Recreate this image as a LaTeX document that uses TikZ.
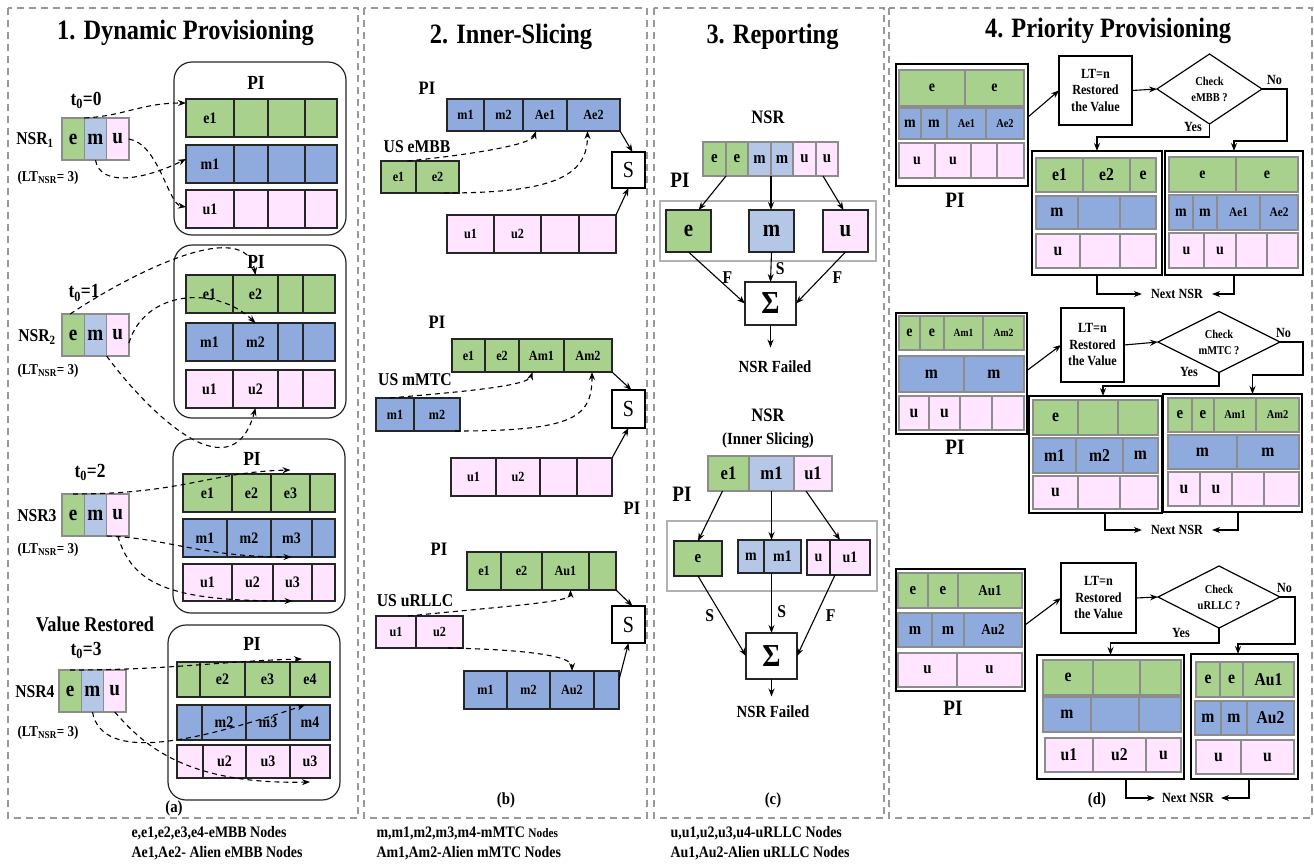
\documentclass[tikz,border=0pt]{standalone}
\usepackage{fontspec}
\setmainfont{Liberation Serif}[FakeStretch=0.87]
\usetikzlibrary{positioning}
\usetikzlibrary{shapes.geometric}
\usetikzlibrary{arrows.meta}

\definecolor{embb}{HTML}{A9D18E}
\definecolor{mmtc}{HTML}{8FAADC}
\definecolor{mlite}{HTML}{B4C7E7}
\definecolor{urllc}{HTML}{FFE5FF}

\newcommand{\fs}[1]{\fontsize{#1}{#1}\selectfont\bfseries}
\newcommand{\fsl}[2]{\fontsize{#1}{#2}\selectfont\bfseries}

% a row of slots: name, style, top, bottom, {left/right/label,...}
\newcommand{\slots}[5]{%
  \foreach \xa/\xb/\lab [count=\ci] in {#5}{%
    \node[#2, minimum width={(\xb-\xa)*1pt}, minimum height={(#4-#3)*1pt}]
      (#1-\ci) at ({(\xa+\xb)/2},{(#3+#4)/2}) {\lab};
  }%
}
% a box node between two corners
\newcommand{\spot}[7]{%
  \node[#1, minimum width={(#5-#3)*1pt}, minimum height={(#6-#4)*1pt}]
    (#2) at ({(#3+#5)/2},{(#4+#6)/2}) {#7};%
}
\newcommand{\nsrblock}[3]{%
  \node[nsrcell, fill=embb, anchor=north west] (#1-e) at (#2,#3) {e};
  \node[nsrcell, fill=mlite, right=0pt of #1-e] (#1-m) {m};
  \node[nsrcell, fill=urllc, right=0pt of #1-m] (#1-u) {u};%
}

\tikzset{
  panel/.style={draw=black!40, dash pattern=on 7pt off 5pt, line width=1.3pt},
  pibox/.style={draw=black!85, line width=1.2pt, rounded corners=18pt},
  slot/.style={draw=black!85, line width=1.2pt, inner sep=0pt, outer sep=0pt, font=\fs{16}},
  gslot/.style={draw=black!45, line width=1.2pt, inner sep=0pt, outer sep=0pt, font=\fs{16}},
  nsrcell/.style={draw=black!45, line width=1.2pt, inner sep=0pt, outer sep=0pt,
    minimum width=22.3pt, minimum height=42pt, font=\fs{22}},
  obox/.style={draw, line width=1.4pt, inner sep=0pt, outer sep=0pt},
  gframe/.style={draw=black!30, line width=1.3pt, inner sep=0pt, outer sep=0pt},
  sbox/.style={draw, line width=1.2pt, fill=white, inner sep=0pt, outer sep=0pt,
    font=\fontsize{23}{23}\selectfont},
  ltbox/.style={obox, align=center, font=\fsl{14}{16.5}},
  check/.style={diamond, aspect=2, draw, line width=1.2pt, inner sep=0pt, outer sep=0pt,
    align=center, font=\fsl{12}{16}},
  dasharr/.style={dash pattern=on 5pt off 4pt, line width=1.1pt, -{Stealth[length=8pt,width=6pt]}},
  arr/.style={line width=1.1pt, -{Stealth[length=8pt,width=6pt]}},
}

\begin{document}
\begin{tikzpicture}[x=1pt,y=-1pt]
\useasboundingbox (0,0) rectangle (1314,863);

\draw[panel] (8,8) rectangle (358,818);
\draw[panel] (364,8) rectangle (647,818);
\draw[panel] (654,8) rectangle (884,818);
\draw[panel] (889,8) rectangle (1312,818);

\node[font=\fs{28}, anchor=base] (ttla) at (185.5,39) {1. Dynamic Provisioning};
\node[font=\fs{28}, anchor=base] (ttlb) at (511,43) {2. Inner-Slicing};
\node[font=\fs{28}, anchor=base] (ttlc) at (772.5,43) {3. Reporting};
\node[font=\fs{28}, anchor=base] (ttld) at (1108,37) {4. Priority Provisioning};

% 1. dynamic provisioning
\draw[pibox] (174,62) rectangle (346,235);
\node[font=\fs{20}] (pia) at (256,83) {PI};
\slots{pae}{slot, fill=embb}{99}{137}{186/234/e1, 234/268/{}, 268/305/{}, 305/337/{}}
\slots{pam}{slot, fill=mmtc}{145}{183}{186/234/m1, 234/268/{}, 268/305/{}, 305/337/{}}
\slots{pau}{slot, fill=urllc}{190}{228}{186/234/u1, 234/268/{}, 268/305/{}, 305/337/{}}
\node[font=\fs{20}] (tza) at (86,100) {t\textsubscript{0}=0};
\node[font=\fs{18}] (nla) at (35,140) {NSR\textsubscript{1}};
\node[font=\fs{15}] (lva) at (48,178) {(LT\textsubscript{NSR}= 3)};
\nsrblock{na}{62}{118}
\draw[dasharr] (na-e.north east) .. controls +(40,-2) and +(-45,0) .. ([yshift=-4pt]pae-1.north west);
\draw[dasharr] (na-m.south) .. controls +(5,28) and +(-40,20) .. ([yshift=5pt]pam-1.west);
\draw[dasharr] (na-u.east) .. controls +(30,5) and +(-18,-3) .. ([yshift=2pt]pau-1.west);

\draw[pibox] (174,245) rectangle (346,418);
\node[font=\fs{20}] (pib) at (256,262) {PI};
\slots{pbe}{slot, fill=embb}{275}{313}{186/233/e1, 233/278/e2, 278/303/{}, 303/335/{}}
\slots{pbm}{slot, fill=mmtc}{323}{361}{186/233/m1, 233/278/m2, 278/303/{}, 303/335/{}}
\slots{pbu}{slot, fill=urllc}{370}{408}{186/233/u1, 233/278/u2, 278/303/{}, 303/335/{}}
\node[font=\fs{20}] (tzb) at (84,293) {t\textsubscript{0}=1};
\node[font=\fs{18}] (nlb) at (37,337) {NSR\textsubscript{2}};
\node[font=\fs{15}] (lvb) at (48,371) {(LT\textsubscript{NSR}= 3)};
\nsrblock{nb}{62}{314}
\draw[dasharr] ([xshift=-3pt]nb-e.north) .. controls +(60,-40) and +(-10,-60) .. (pbe-2.north);
\draw[dasharr] ([yshift=-8pt]nb-u.east) .. controls +(16,-53) and +(-40,-38) .. (pbm-2.north);
\draw[dasharr] (nb-m.south east) .. controls +(33,45) and +(-25,92) .. (pbu-2.south);

\draw[pibox] (173,439) rectangle (345,613);
\node[font=\fs{20}] (pic) at (252,459) {PI};
\slots{pce}{slot, fill=embb}{474}{512}{183/232/e1, 232/271/e2, 271/310/e3, 310/335/{}}
\slots{pcm}{slot, fill=mmtc}{519}{557}{183/227/m1, 227/271/m2, 271/312/m3, 312/335/{}}
\slots{pcu}{slot, fill=urllc}{564}{601}{183/232/u1, 232/273/u2, 273/312/u3, 312/335/{}}
\node[font=\fs{20}] (tzc) at (90,472) {t\textsubscript{0}=2};
\node[font=\fs{18}] (nlc) at (37,516) {NSR3};
\node[font=\fs{15}] (lvc) at (48,550) {(LT\textsubscript{NSR}= 3)};
\nsrblock{nc}{62}{494}
\draw[dasharr] (nc-e.north) .. controls +(110,0) and +(-80,2) .. ([yshift=4pt]pce-3.north);
\draw[dasharr] (nc-m.south east) .. controls +(60,2) and +(-90,0) .. (pcm-3.south);
\draw[dasharr] (nc-u.south) .. controls +(15,50) and +(-120,0) .. (pcu-3.south);

\draw[pibox] (168,625) rectangle (340,800);
\node[font=\fs{20}] (pid) at (252,644) {PI};
\slots{pde}{slot, fill=embb}{662}{697}{177/200/{}, 200/245/e2, 245/290/e3, 290/330/e4}
\slots{pdm}{slot, fill=mmtc}{705}{740}{177/202/{}, 202/246/m2, 246/290/m3, 290/330/m4}
\slots{pdu}{slot, fill=urllc}{745}{778}{177/203/{}, 203/246/u2, 246/290/u3, 290/330/u3}
\node[font=\fs{21}] (vres) at (95,624) {Value Restored};
\node[font=\fs{20}] (tzd) at (86,650) {t\textsubscript{0}=3};
\node[font=\fs{18}] (nld) at (35,692) {NSR4};
\node[font=\fs{15}] (lvd) at (48,733) {(LT\textsubscript{NSR}= 3)};
\nsrblock{nd}{59}{670}
\draw[dasharr] (nd-e.north) .. controls +(100,0) and +(-80,2) .. ([shift={(12pt,3pt)}]pde-3.north east);
\draw[dasharr] (nd-m.south) .. controls +(10,53) and +(-105,35) .. ([xshift=-5pt]pdm-4.north);
\draw[dasharr] (nd-u.south) .. controls +(25,28) and +(-130,3) .. ([yshift=-4pt]pdu-4.south);
\node[font=\fs{17}] (capa) at (174,808) {(a)};

% 2. inner slicing
\node[font=\fs{19}] (pie) at (427,88) {PI};
\slots{sfa}{slot, fill=mmtc, font=\fs{14}}{99}{131}{447/484/m1, 484/523/m2, 523/567/Ae1, 567/620/Ae2}
\node[font=\fs{18}] (usea) at (417,147) {US eMBB};
\slots{usa}{slot, fill=embb, font=\fs{14}}{161}{193}{381/416/e1, 416/459/e2}
\spot{sbox}{sa}{612}{152}{645}{188}{S}
\slots{sfb}{slot, fill=urllc, font=\fs{14}}{215}{253}{447/494/u1, 494/541/u2, 541/579/{}, 579/616/{}}
\draw[arr] (sfa-4.south east) -- ([xshift=4pt]sa.north);
\draw[arr] (sfb-4.north east) -- (sa.south);
\draw[dasharr] ([xshift=9pt]usa-1.north) .. controls +(50,-5) and +(-5,15) .. ([xshift=-9pt]sfa-3.south);
\draw[dasharr] ([xshift=-15pt]usa-2.south east) .. controls +(110,0) and +(0,45) .. ([xshift=-6pt]sfa-4.south);

\node[font=\fs{19}] (pif) at (437,322) {PI};
\slots{sga}{slot, fill=embb, font=\fs{14}}{339}{372}{452/485/e1, 485/519/e2, 519/564/Am1, 564/612/Am2}
\node[font=\fs{18}] (useb) at (415,380) {US mMTC};
\slots{usb}{slot, fill=mmtc, font=\fs{14}}{398}{431}{376/414/m1, 414/460/m2}
\spot{sbox}{sb}{612}{390}{645}{428}{S}
\slots{sgb}{slot, fill=urllc, font=\fs{14}}{458}{496}{451/496/u1, 496/540/u2, 540/577/{}, 577/612/{}}
\draw[arr] (sga-4.south east) -- ([xshift=3pt]sb.north);
\draw[arr] (sgb-4.north east) -- (sb.south);
\draw[dasharr] ([xshift=-5pt]usb-1.north) .. controls +(55,-5) and +(-5,15) .. ([xshift=-9pt]sga-3.south);
\draw[dasharr] ([xshift=-5pt]usb-2.south east) .. controls +(120,0) and +(0,45) .. ([xshift=4pt]sga-4.south);
\node[font=\fs{19}] (pig) at (632,508) {PI};

\node[font=\fs{19}] (pih) at (439,549) {PI};
\slots{sha}{slot, fill=embb, font=\fs{14}}{552}{590}{467/501/e1, 501/542/e2, 542/589/Au1, 589/616/{}}
\node[font=\fs{18}] (usec) at (415,601) {US uRLLC};
\slots{usc}{slot, fill=urllc, font=\fs{14}}{616}{648}{376/416/u1, 416/463/u2}
\spot{sbox}{sc}{612}{606}{645}{643}{S}
\slots{shb}{slot, fill=mmtc, font=\fs{14}}{671}{709}{464/507/m1, 507/550/m2, 550/594/Au2, 594/619/{}}
\draw[arr] (sha-4.south east) -- ([xshift=4pt]sc.north);
\draw[arr] ([yshift=10pt]shb-4.east) -- (sc.south);
\draw[dasharr] ([xshift=12pt]usc-1.north) .. controls +(100,-10) and +(0,12) .. ([xshift=5pt]sha-3.south);
\draw[dasharr] ([xshift=-15pt]usc-2.south east) .. controls +(100,2) and +(0,-12) .. (shb-3.north);
\node[font=\fs{17}] (capb) at (506,800) {(b)};

% 3. reporting
\node[font=\fs{19}] (nsra) at (768,117) {NSR};
\slots{rae}{gslot, fill=embb, font=\fs{17}}{142}{176}{703/726/e, 726/748/e}
\slots{ram}{gslot, fill=mlite, font=\fs{17}}{142}{176}{748/771/m, 771/793/m}
\slots{rau}{gslot, fill=urllc, font=\fs{17}}{142}{176}{793/816/u, 816/838/u}
\node[font=\fs{22}] (pij) at (680,180) {PI};
\spot{gframe}{rga}{660}{201}{876}{261}{}
\spot{slot, fill=embb, font=\fs{24}}{rbe}{666}{210}{711}{252}{e}
\spot{slot, fill=mlite, font=\fs{24}}{rbm}{749}{210}{794}{252}{m}
\spot{slot, fill=urllc, font=\fs{24}}{rbu}{823}{210}{868}{252}{u}
\spot{slot, fill=white, font=\fs{32}}{suma}{745}{282}{796}{325}{Σ}
\draw[arr] (rae-1.south east) -- ([xshift=10pt]rbe.north);
\draw[arr] (ram-1.south east) -- (ram-1.south east |- rbm.north);
\draw[arr] ([xshift=7pt]rau-2.south west) -- ([xshift=-2pt]rbu.north);
\draw[arr] (rbe.south) -- node[right=2pt, font=\fs{18}] {F} (suma.west);
\draw[arr] (rbm.south) -- node[pos=0.55, right=1pt, font=\fs{18}] {S} (suma.north);
\draw[arr] (rbu.south) -- node[right=8pt, font=\fs{18}] {F} (suma.east);
\node[font=\fs{17}] (nfa) at (775,367) {NSR Failed};
\draw[arr] (suma.south) -- ([yshift=10pt]suma.south |- nfa.north);

\node[font=\fs{19}] (nsrb) at (768,415) {NSR};
\node[font=\fs{17}] (innr) at (768,440) {(Inner Slicing)};
\slots{rce}{gslot, fill=embb, font=\fs{19}}{456}{491}{708/749/e1}
\slots{rcm}{gslot, fill=mlite, font=\fs{19}}{456}{491}{749/794/m1}
\slots{rcu}{gslot, fill=urllc, font=\fs{19}}{456}{491}{794/832/u1}
\node[font=\fs{22}] (pik) at (682,494) {PI};
\spot{gframe}{rgb}{667}{521}{877}{591}{}
\spot{slot, fill=embb, font=\fs{17}}{rde}{674}{541}{722}{576}{e}
\slots{rdm}{slot, fill=mlite, font=\fs{16}}{540}{573}{738/764/m, 764/801/m1}
\slots{rdu}{slot, fill=urllc, font=\fs{16}}{540}{575}{807/830/u, 830/870/u1}
\spot{slot, fill=white, font=\fs{32}}{sumb}{746}{633}{797}{679}{Σ}
\draw[arr] ([xshift=-6pt]rce-1.south) -- (rde.north);
\draw[arr] (rcm-1.south) -- (rcm-1.south |- rdm-2.north);
\draw[arr] ([xshift=-7pt]rcu-1.south) -- ([xshift=-10pt]rdu-2.north);
\draw[arr] (rde.south) -- node[left=4pt, font=\fs{18}] {S} (sumb.west);
\draw[arr] (sumb.north |- rdm-2.south) -- node[pos=0.65, right=2pt, font=\fs{18}] {S} (sumb.north);
\draw[arr] ([xshift=5pt]rdu-1.south east) -- node[right=6pt, font=\fs{18}] {F} (sumb.east);
\node[font=\fs{17}] (nfb) at (773,712) {NSR Failed};
\draw[arr] (sumb.south) -- ([yshift=6pt]sumb.south |- nfb.north);
\node[font=\fs{17}] (capc) at (773,800) {(c)};

% 4. priority provisioning
\spot{obox}{qa}{896}{64}{1028}{186}{}
\slots{qae}{gslot, fill=embb}{70}{106}{899/965/e, 965/1024/e}
\slots{qam}{gslot, fill=mmtc}{108}{139}{899/921/m, 921/947/m, 947/986/{\fs{12}Ae1}, 986/1024/{\fs{12}Ae2}}
\slots{qau}{gslot, fill=urllc}{143}{178}{899/935/u, 935/971/u, 971/997/{}, 997/1024/{}}
\node[font=\fs{22}] (pqa) at (955,200) {PI};
\spot{ltbox}{lta}{1059}{56}{1132}{125}{LT=n\\Restored\\the Value}
\node[check, minimum width=105pt, minimum height=70pt] (cka) at (1209.5,89) {Check\\eMBB ?};
\spot{obox}{qb}{1032}{151}{1162}{275}{}
\slots{qbe}{gslot, fill=embb, font=\fs{18}}{158}{192}{1036/1083/e1, 1083/1130/e2, 1130/1156/e}
\slots{qbm}{gslot, fill=mmtc, font=\fs{18}}{196}{229}{1036/1078/m, 1078/1120/{}, 1120/1156/{}}
\slots{qbu}{gslot, fill=urllc, font=\fs{18}}{234}{268}{1036/1080/u, 1080/1120/{}, 1120/1156/{}}
\spot{obox}{qc}{1165}{151}{1303}{275}{}
\slots{qce}{gslot, fill=embb}{157}{192}{1169/1236/e, 1236/1298/e}
\slots{qcm}{gslot, fill=mmtc}{195}{230}{1169/1193/m, 1193/1217/m, 1217/1260/{\fs{13}Ae1}, 1260/1298/{\fs{13}Ae2}}
\slots{qcu}{gslot, fill=urllc}{233}{268}{1169/1204/u, 1204/1236/u, 1236/1267/{}, 1267/1298/{}}
\draw[arr] ([yshift=8pt]qa.east) -- (lta.west);
\draw[arr] (lta.east) -- (cka.west);
\draw[arr] (cka.east) -- node[above, font=\fs{14}] (noa) {No} ++(25,0) |- ([yshift=10pt]qc.north) -- (qc.north);
\draw[arr] (cka.south) |- ([yshift=14pt]qb.north) -- (qb.north);
\node[font=\fs{14}] (yesa) at (1193,127) {Yes};
\node[font=\fs{14}, inner xsep=9pt] (nxa) at (1177,294) {Next NSR};
\draw[arr] (qb.south) |- (nxa.west);
\draw[arr] (qc.south) |- (nxa.east);

\spot{obox}{qd}{896}{313}{1027}{434}{}
\slots{qde}{gslot, fill=embb}{316}{350}{899/920/e, 920/944/e, 944/983/{\fs{11}Am1}, 983/1024/{\fs{11}Am2}}
\slots{qdm}{gslot, fill=mmtc, font=\fs{18}}{356}{392}{899/964/m, 964/1024/m}
\slots{qdu}{gslot, fill=urllc, font=\fs{18}}{396}{430}{899/929/u, 929/960/u, 960/992/{}, 992/1024/{}}
\node[font=\fs{22}] (pqb) at (955,447) {PI};
\spot{ltbox}{ltb}{1061}{308}{1124}{382}{LT=n\\Restored\\the Value}
\node[check, minimum width=122pt, minimum height=61pt] (ckb) at (1219,342) {Check\\mMTC ?};
\spot{obox}{qe}{1029}{396}{1162}{513}{}
\slots{qee}{gslot, fill=embb, font=\fs{18}}{400}{435}{1033/1078/e, 1078/1118/{}, 1118/1158/{}}
\slots{qem}{gslot, fill=mmtc, font=\fs{18}}{438}{473}{1033/1076/m1, 1076/1123/m2, 1123/1158/m}
\slots{qeu}{gslot, fill=urllc, font=\fs{18}}{476}{509}{1033/1078/u, 1078/1120/{}, 1120/1158/{}}
\spot{obox}{qf}{1163}{394}{1302}{512}{}
\slots{qfe}{gslot, fill=embb, font=\fs{17}}{398}{432}{1168/1192/e, 1192/1214/e, 1214/1256/{\fs{12}Am1}, 1256/1299/{\fs{12}Am2}}
\slots{qfm}{gslot, fill=mmtc, font=\fs{18}}{435}{469}{1168/1237/m, 1237/1299/m}
\slots{qfu}{gslot, fill=urllc, font=\fs{18}}{472}{506}{1168/1200/u, 1200/1232/u, 1232/1264/{}, 1264/1299/{}}
\draw[arr] ([yshift=3pt]qd.east) -- (ltb.west);
\draw[arr] (ltb.east) -- (ckb.west);
\draw[arr] (ckb.east) -- node[pos=0.15, above, font=\fs{14}] (nob) {No} ++(23,0) |- ([xshift=20pt, yshift=19pt]qf.north) -- ([xshift=20pt]qf.north);
\draw[arr] (ckb.south) |- ([xshift=7.5pt, yshift=10pt]qe.north) -- ([xshift=7.5pt]qe.north);
\node[font=\fs{14}] (yesb) at (1189,372) {Yes};
\node[font=\fs{14}, inner xsep=9pt] (nxb) at (1177,530) {Next NSR};
\draw[arr] ([xshift=9.5pt]qe.south) |- (nxb.west);
\draw[arr] ([xshift=5.5pt]qf.south) |- (nxb.east);

\spot{obox}{qg}{896}{569}{1025}{691}{}
\slots{qge}{gslot, fill=embb, font=\fs{17}}{573}{608}{898/928/e, 928/958/e, 958/1022/{\fs{15}Au1}}
\slots{qgm}{gslot, fill=mmtc, font=\fs{17}}{613}{647}{898/932/m, 932/964/m, 964/1022/{\fs{15}Au2}}
\slots{qgu}{gslot, fill=urllc, font=\fs{17}}{653}{687}{898/957/u, 957/1022/u}
\node[font=\fs{22}] (pqc) at (953,708) {PI};
\spot{ltbox}{ltc}{1061}{563}{1136}{633}{LT=n\\Restored\\the Value}
\node[check, minimum width=122pt, minimum height=62pt] (ckc) at (1219,597) {Check\\uRLLC ?};
\spot{obox}{qh}{1037}{655}{1184}{779}{}
\slots{qhe}{gslot, fill=embb, font=\fs{18}}{660}{695}{1043/1093/e, 1093/1140/{}, 1140/1181/{}}
\slots{qhm}{gslot, fill=mmtc, font=\fs{18}}{697}{732}{1043/1091/m, 1091/1139/{}, 1139/1181/{}}
\slots{qhu}{gslot, fill=urllc, font=\fs{18}}{738}{772}{1045/1093/u1, 1093/1146/u2, 1146/1181/u}
\spot{obox}{qi}{1191}{654}{1298}{779}{}
\slots{qie}{gslot, fill=embb, font=\fs{18}}{662}{697}{1196/1220/e, 1220/1243/e, 1243/1294/Au1}
\slots{qim}{gslot, fill=mmtc, font=\fs{18}}{701}{735}{1195/1221/m, 1221/1247/m, 1247/1294/Au2}
\slots{qiu}{gslot, fill=urllc, font=\fs{18}}{740}{774}{1196/1241/u, 1241/1294/u}
\draw[arr] ([yshift=5pt]qg.east) -- (ltc.west);
\draw[arr] (ltc.east) -- (ckc.west);
\draw[arr] (ckc.east) -- node[pos=0.3, above, font=\fs{14}] (noc) {No} ++(15,0) |- ([xshift=-6.5pt, yshift=10pt]qi.north) -- ([xshift=-6.5pt]qi.north);
\draw[arr] (ckc.south) |- ([yshift=12pt]qh.north) -- (qh.north);
\node[font=\fs{14}] (yesc) at (1181,633) {Yes};
\node[font=\fs{14}, inner xsep=7pt] (nxc) at (1188,798) {Next NSR};
\draw[arr] ([xshift=15.5pt]qh.south) |- (nxc.west);
\draw[arr] ([xshift=4.5pt]qi.south) |- (nxc.east);
\node[font=\fs{17}] (capd) at (1097,800) {(d)};

% legends
\node[font=\fs{16}, anchor=west] (lgaa) at (128,833) {e,e1,e2,e3,e4-eMBB Nodes};
\node[font=\fs{16}, anchor=west] (lgab) at (128,853) {Ae1,Ae2- Alien eMBB Nodes};
\node[font=\fs{16}, anchor=west] (lgba) at (373,833) {m,m1,m2,m3,m4-mMTC {\fs{13}Nodes}};
\node[font=\fs{16}, anchor=west] (lgbb) at (373,853) {Am1,Am2-Alien mMTC Nodes};
\node[font=\fs{16}, anchor=west] (lgca) at (667,833) {u,u1,u2,u3,u4-uRLLC Nodes};
\node[font=\fs{16}, anchor=west] (lgcb) at (667,853) {Au1,Au2-Alien uRLLC Nodes};
\end{tikzpicture}
\end{document}
